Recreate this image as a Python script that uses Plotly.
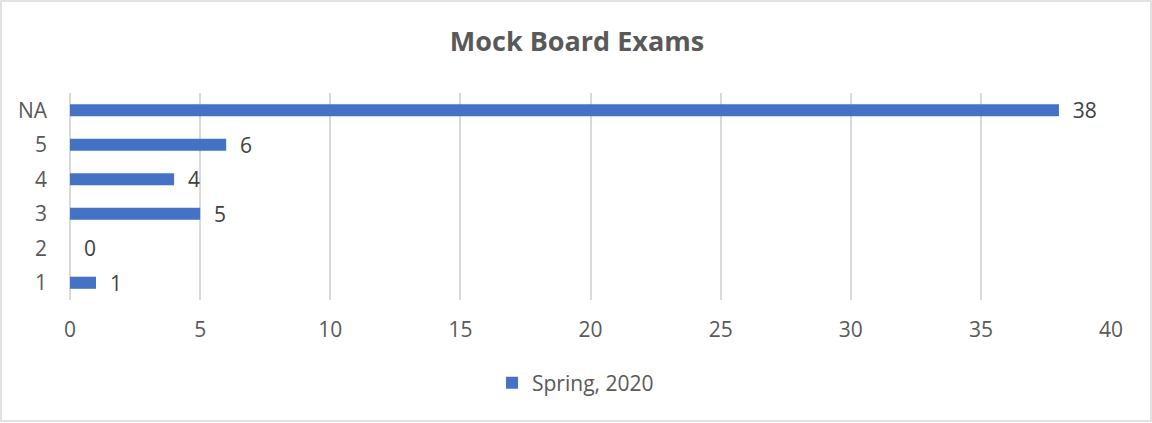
import plotly.graph_objects as go

categories = ["1", "2", "3", "4", "5", "NA"]
values = [1, 0, 5, 4, 6, 38]
series_name = "Spring, 2020"
x_ticks = [0, 5, 10, 15, 20, 25, 30, 35, 40]

W, H = 1152, 423
L, R, T, B = 70, 41, 93, 123
pw, ph = W - L - R, H - T - B

font_family = "'Open Sans', sans-serif"
text_color = "#595959"

fig = go.Figure()
fig.add_trace(go.Bar(
    y=categories, x=values, orientation="h", name=series_name,
    marker=dict(color="#4472c4", line=dict(width=0)),
    width=0.35,
    text=["\u00a0\u00a0" + str(v) for v in values], textposition="outside",
    textfont=dict(size=21, color="#404040", family=font_family),
    constraintext="none",
    cliponaxis=False,
))

fig.update_layout(
    width=W, height=H,
    margin=dict(l=L, r=R, t=T, b=B),
    paper_bgcolor="white", plot_bgcolor="white",
    font=dict(family=font_family, color=text_color, size=21),
    title=dict(text="<b>Mock Board Exams</b>", x=(577 - 0) / W, xanchor="center",
               y=1 - 42 / H, yanchor="middle",
               font=dict(size=27, color=text_color, family=font_family)),
    showlegend=True,
    legend=dict(orientation="h", x=(492 - L) / pw, xanchor="left",
                y=-(383 - (T + ph)) / ph, yanchor="middle",
                font=dict(size=21, color=text_color)),
    bargap=0.65,
)
fig.update_xaxes(range=[0, 40], tickvals=x_ticks, showgrid=True,
                 gridcolor="#d9d9d9", gridwidth=1.5, zeroline=True,
                 zerolinecolor="#d9d9d9", zerolinewidth=1.5,
                 showline=False, ticklabelstandoff=15,
                 tickfont=dict(size=21, color=text_color))
fig.update_yaxes(type="category", showgrid=False, showline=False,
                 ticklabelstandoff=22, tickfont=dict(size=21, color=text_color))

# chart border
fig.add_shape(type="rect", xref="paper", yref="paper",
              x0=(1 - L) / pw, x1=(W - 1 - L) / pw,
              y0=-(H - 2 - T - ph) / ph, y1=1 + (T - 1) / ph,
              line=dict(color="#d9d9d9", width=1.5), fillcolor="rgba(0,0,0,0)",
              layer="below")

fig.write_html("out.html", config={"displayModeBar": False},
               post_script="document.body.style.margin='0';document.body.style.overflow='hidden';")
